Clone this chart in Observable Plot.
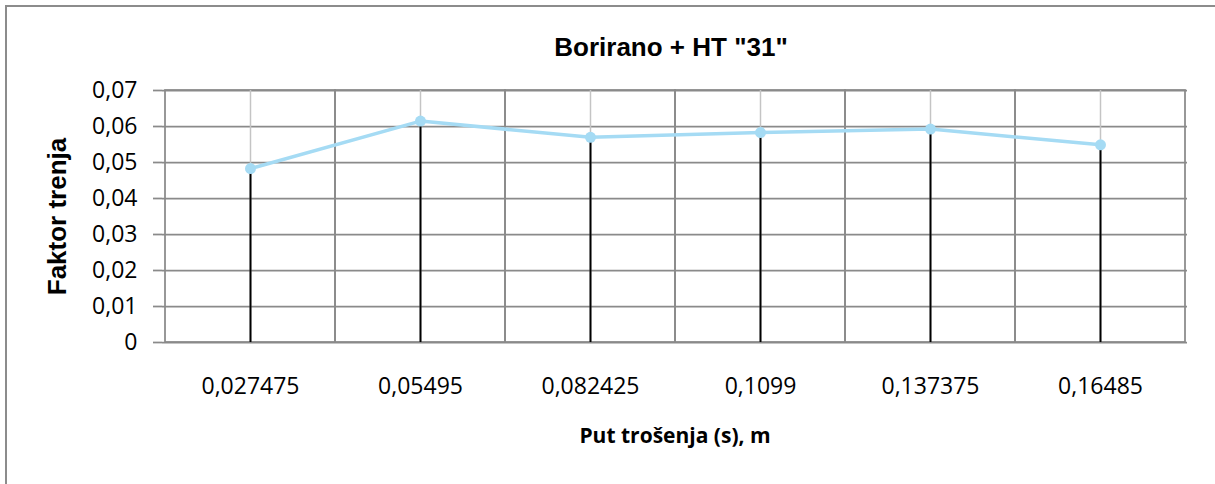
<!DOCTYPE html>
<html>
<head>
<meta charset="utf-8">
<script src="https://cdn.jsdelivr.net/npm/d3@7"></script>
<script src="https://cdn.jsdelivr.net/npm/@observablehq/plot@0.6"></script>
<style>
  html, body { margin: 0; padding: 0; background: #fff; overflow: hidden; }
  #wrap { position: relative; width: 1215px; height: 484px; }
  #border { position: absolute; left: 5px; top: 5px; width: 1230px; height: 520px;
            border-left: 2px solid #8c8c8c; border-top: 2px solid #8c8c8c; pointer-events: none; }
  #chart { position: absolute; left: 0; top: 0; }
</style>
</head>
<body>
<div id="wrap"><div id="chart"></div><div id="border"></div></div>
<script>
// Data
const distances = [0.027475, 0.05495, 0.082425, 0.1099, 0.137375, 0.16485];
const friction = [0.0483, 0.0615, 0.0570, 0.0583, 0.0593, 0.0549];
const yTicks = [0, 0.01, 0.02, 0.03, 0.04, 0.05, 0.06, 0.07];
const titleText = 'Borirano + HT "31"';
const yTitle = "Faktor trenja";
const xTitle = "Put trošenja (s), m";

const fmt = v => String(v).replace(".", ",");
const cats = distances.map(fmt);
const data = distances.map((d, i) => ({x: fmt(d), y: friction[i]}));

const gridColor = "#8a8a8a";
const plot = Plot.plot({
  width: 1215,
  height: 484,
  marginLeft: 162,
  marginRight: 28,
  marginTop: 90,
  marginBottom: 142,
  style: {fontFamily: "'Open Sans', sans-serif", fontSize: "23px", background: "transparent", overflow: "visible"},
  x: {type: "band", domain: cats, padding: 0},
  y: {domain: [0, 0.07]},
  marks: [
    // horizontal gridlines
    Plot.ruleY(yTicks, {stroke: gridColor, strokeWidth: 1.75}),
    // category boundary gridlines
    Plot.barY(cats, {x: d => d, y1: 0, y2: 0.07, fill: "none", stroke: gridColor, strokeWidth: 1.75, inset: 0}),
    // light gridlines at category centres
    Plot.ruleX(cats, {x: d => d, y1: 0, y2: 0.07, stroke: "#c4c4c4", strokeWidth: 1.5}),
    // drop lines
    Plot.ruleX(data, {x: "x", y1: 0, y2: "y", stroke: "#000", strokeWidth: 2}),
    Plot.line(data, {x: "x", y: "y", stroke: "#a5dbf4", strokeWidth: 3.5}),
    Plot.dot(data, {x: "x", y: "y", r: 5.5, fill: "#a5dbf4", stroke: "none"}),
    Plot.axisY(yTicks, {tickSize: 9, tickPadding: 16, stroke: gridColor, strokeWidth: 1.75,
      tickFormat: fmt, fill: "#000", fontSize: 23, label: null}),
    Plot.axisX({tickSize: 0, tickPadding: 35, fill: "#000", fontSize: 23, label: null}),
    Plot.text([titleText], {frameAnchor: "top", dx: -4, dy: -35, lineAnchor: "bottom",
      fontFamily: "'Liberation Sans', Arial, sans-serif", fontWeight: "bold", fontSize: 26, fill: "#000"}),
    Plot.text([yTitle], {frameAnchor: "left", dx: -97, rotate: -90, lineAnchor: "bottom", textAnchor: "middle",
      fontFamily: "'Liberation Sans', Arial, sans-serif", fontWeight: "bold", fontSize: 26, fill: "#000"}),
    Plot.text([xTitle], {frameAnchor: "bottom", dy: 86, lineAnchor: "top",
      fontFamily: "'Open Sans', sans-serif", fontWeight: "bold", fontSize: 21, fill: "#000"})
  ]
});
document.getElementById("chart").appendChild(plot);
</script>
</body>
</html>
